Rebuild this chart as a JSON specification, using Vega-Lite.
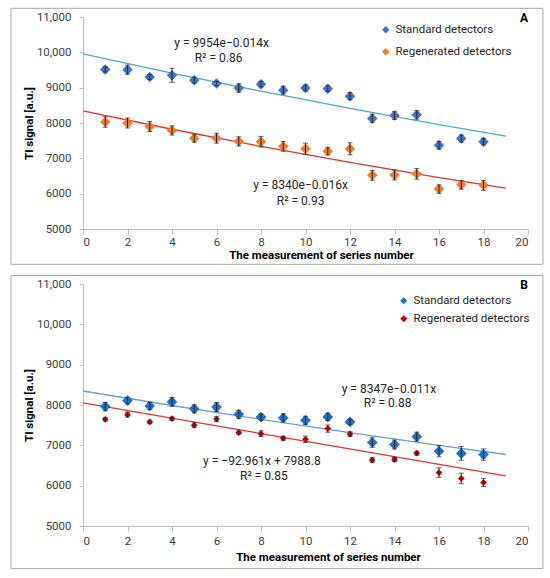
{
  "$schema": "https://vega.github.io/schema/vega-lite/v6.json",
  "background": "white",
  "padding": {"left": 10, "top": 7, "right": 5, "bottom": 5},
  "spacing": 10,
  "datasets": {
    "pts": [
      {"panel": "A", "series": "Standard detectors", "x": 1, "y": 9515, "err": 70},
      {"panel": "A", "series": "Standard detectors", "x": 2, "y": 9510, "err": 130},
      {"panel": "A", "series": "Standard detectors", "x": 3, "y": 9300, "err": 70},
      {"panel": "A", "series": "Standard detectors", "x": 4, "y": 9350, "err": 200},
      {"panel": "A", "series": "Standard detectors", "x": 5, "y": 9210, "err": 80},
      {"panel": "A", "series": "Standard detectors", "x": 6, "y": 9120, "err": 60},
      {"panel": "A", "series": "Standard detectors", "x": 7, "y": 8990, "err": 120},
      {"panel": "A", "series": "Standard detectors", "x": 8, "y": 9100, "err": 80},
      {"panel": "A", "series": "Standard detectors", "x": 9, "y": 8930, "err": 110},
      {"panel": "A", "series": "Standard detectors", "x": 10, "y": 8990, "err": 80},
      {"panel": "A", "series": "Standard detectors", "x": 11, "y": 8970, "err": 80},
      {"panel": "A", "series": "Standard detectors", "x": 12, "y": 8760, "err": 100},
      {"panel": "A", "series": "Standard detectors", "x": 13, "y": 8130, "err": 120},
      {"panel": "A", "series": "Standard detectors", "x": 14, "y": 8210, "err": 110},
      {"panel": "A", "series": "Standard detectors", "x": 15, "y": 8230, "err": 120},
      {"panel": "A", "series": "Standard detectors", "x": 16, "y": 7370, "err": 110},
      {"panel": "A", "series": "Standard detectors", "x": 17, "y": 7560, "err": 100},
      {"panel": "A", "series": "Standard detectors", "x": 18, "y": 7470, "err": 90},
      {"panel": "A", "series": "Regenerated detectors", "x": 1, "y": 8030, "err": 150},
      {"panel": "A", "series": "Regenerated detectors", "x": 2, "y": 8000, "err": 140},
      {"panel": "A", "series": "Regenerated detectors", "x": 3, "y": 7900, "err": 140},
      {"panel": "A", "series": "Regenerated detectors", "x": 4, "y": 7790, "err": 130},
      {"panel": "A", "series": "Regenerated detectors", "x": 5, "y": 7570, "err": 110},
      {"panel": "A", "series": "Regenerated detectors", "x": 6, "y": 7570, "err": 140},
      {"panel": "A", "series": "Regenerated detectors", "x": 7, "y": 7480, "err": 130},
      {"panel": "A", "series": "Regenerated detectors", "x": 8, "y": 7470, "err": 150},
      {"panel": "A", "series": "Regenerated detectors", "x": 9, "y": 7340, "err": 140},
      {"panel": "A", "series": "Regenerated detectors", "x": 10, "y": 7270, "err": 160},
      {"panel": "A", "series": "Regenerated detectors", "x": 11, "y": 7200, "err": 100},
      {"panel": "A", "series": "Regenerated detectors", "x": 12, "y": 7270, "err": 170},
      {"panel": "A", "series": "Regenerated detectors", "x": 13, "y": 6520, "err": 140},
      {"panel": "A", "series": "Regenerated detectors", "x": 14, "y": 6530, "err": 140},
      {"panel": "A", "series": "Regenerated detectors", "x": 15, "y": 6560, "err": 150},
      {"panel": "A", "series": "Regenerated detectors", "x": 16, "y": 6130, "err": 120},
      {"panel": "A", "series": "Regenerated detectors", "x": 17, "y": 6250, "err": 120},
      {"panel": "A", "series": "Regenerated detectors", "x": 18, "y": 6235, "err": 140},
      {"panel": "B", "series": "Standard detectors", "x": 1, "y": 7960, "err": 100},
      {"panel": "B", "series": "Standard detectors", "x": 2, "y": 8110, "err": 80},
      {"panel": "B", "series": "Standard detectors", "x": 3, "y": 7975, "err": 90},
      {"panel": "B", "series": "Standard detectors", "x": 4, "y": 8075, "err": 110},
      {"panel": "B", "series": "Standard detectors", "x": 5, "y": 7905, "err": 100},
      {"panel": "B", "series": "Standard detectors", "x": 6, "y": 7950, "err": 110},
      {"panel": "B", "series": "Standard detectors", "x": 7, "y": 7770, "err": 100},
      {"panel": "B", "series": "Standard detectors", "x": 8, "y": 7700, "err": 80},
      {"panel": "B", "series": "Standard detectors", "x": 9, "y": 7680, "err": 100},
      {"panel": "B", "series": "Standard detectors", "x": 10, "y": 7620, "err": 100},
      {"panel": "B", "series": "Standard detectors", "x": 11, "y": 7705, "err": 90},
      {"panel": "B", "series": "Standard detectors", "x": 12, "y": 7580, "err": 60},
      {"panel": "B", "series": "Standard detectors", "x": 13, "y": 7070, "err": 120},
      {"panel": "B", "series": "Standard detectors", "x": 14, "y": 7020, "err": 110},
      {"panel": "B", "series": "Standard detectors", "x": 15, "y": 7215, "err": 110},
      {"panel": "B", "series": "Standard detectors", "x": 16, "y": 6855, "err": 140},
      {"panel": "B", "series": "Standard detectors", "x": 17, "y": 6800, "err": 170},
      {"panel": "B", "series": "Standard detectors", "x": 18, "y": 6770, "err": 140},
      {"panel": "B", "series": "Regenerated detectors", "x": 1, "y": 7645, "err": 40},
      {"panel": "B", "series": "Regenerated detectors", "x": 2, "y": 7760, "err": 60},
      {"panel": "B", "series": "Regenerated detectors", "x": 3, "y": 7580, "err": 40},
      {"panel": "B", "series": "Regenerated detectors", "x": 4, "y": 7660, "err": 40},
      {"panel": "B", "series": "Regenerated detectors", "x": 5, "y": 7500, "err": 60},
      {"panel": "B", "series": "Regenerated detectors", "x": 6, "y": 7650, "err": 60},
      {"panel": "B", "series": "Regenerated detectors", "x": 7, "y": 7315, "err": 40},
      {"panel": "B", "series": "Regenerated detectors", "x": 8, "y": 7290, "err": 70},
      {"panel": "B", "series": "Regenerated detectors", "x": 9, "y": 7175, "err": 50},
      {"panel": "B", "series": "Regenerated detectors", "x": 10, "y": 7150, "err": 80},
      {"panel": "B", "series": "Regenerated detectors", "x": 11, "y": 7415, "err": 90},
      {"panel": "B", "series": "Regenerated detectors", "x": 12, "y": 7278, "err": 60},
      {"panel": "B", "series": "Regenerated detectors", "x": 13, "y": 6635, "err": 60},
      {"panel": "B", "series": "Regenerated detectors", "x": 14, "y": 6650, "err": 50},
      {"panel": "B", "series": "Regenerated detectors", "x": 15, "y": 6805, "err": 50},
      {"panel": "B", "series": "Regenerated detectors", "x": 16, "y": 6325, "err": 120},
      {"panel": "B", "series": "Regenerated detectors", "x": 17, "y": 6180, "err": 130},
      {"panel": "B", "series": "Regenerated detectors", "x": 18, "y": 6080, "err": 100}
    ],
    "fit": [
      {"panel": "A", "series": "Standard detectors", "x": 0, "y": 9954},
      {"panel": "A", "series": "Standard detectors", "x": 4, "y": 9411},
      {"panel": "A", "series": "Standard detectors", "x": 8, "y": 8899},
      {"panel": "A", "series": "Standard detectors", "x": 12, "y": 8414},
      {"panel": "A", "series": "Standard detectors", "x": 16, "y": 7956},
      {"panel": "A", "series": "Standard detectors", "x": 19, "y": 7629},
      {"panel": "A", "series": "Regenerated detectors", "x": 0, "y": 8340},
      {"panel": "A", "series": "Regenerated detectors", "x": 4, "y": 7823},
      {"panel": "A", "series": "Regenerated detectors", "x": 8, "y": 7338},
      {"panel": "A", "series": "Regenerated detectors", "x": 12, "y": 6883},
      {"panel": "A", "series": "Regenerated detectors", "x": 16, "y": 6456},
      {"panel": "A", "series": "Regenerated detectors", "x": 19, "y": 6154},
      {"panel": "B", "series": "Standard detectors", "x": 0, "y": 8347},
      {"panel": "B", "series": "Standard detectors", "x": 4, "y": 7988},
      {"panel": "B", "series": "Standard detectors", "x": 8, "y": 7644},
      {"panel": "B", "series": "Standard detectors", "x": 12, "y": 7315},
      {"panel": "B", "series": "Standard detectors", "x": 16, "y": 7000},
      {"panel": "B", "series": "Standard detectors", "x": 19, "y": 6773},
      {"panel": "B", "series": "Regenerated detectors", "x": 0, "y": 8055},
      {"panel": "B", "series": "Regenerated detectors", "x": 19, "y": 6245}
    ],
    "notes": [
      {"panel": "A", "label": "y = 9954e−0.014x", "x": 6.23, "y": 10256},
      {"panel": "A", "label": "R² = 0.86", "x": 6.09, "y": 9831},
      {"panel": "A", "label": "y = 8340e−0.016x", "x": 9.78, "y": 6237},
      {"panel": "A", "label": "R² = 0.93", "x": 9.78, "y": 5784},
      {"panel": "B", "label": "y = 8347e−0.011x", "x": 13.75, "y": 8391},
      {"panel": "B", "label": "R² = 0.88", "x": 13.69, "y": 8059},
      {"panel": "B", "label": "y = −92.961x + 7988.8", "x": 8.04, "y": 6609},
      {"panel": "B", "label": "R² = 0.85", "x": 8.13, "y": 6238}
    ]
  },
  "resolve": {
    "scale": {"x": "independent", "y": "independent", "color": "independent"},
    "legend": {"color": "independent"}
  },
  "vconcat": [
    {
      "width": 445,
      "height": 212,
      "title": {"text": "A", "anchor": "end", "frame": "group", "offset": -17, "fontSize": 12, "fontWeight": "bold", "color": "#000000"},
      "layer": [
        {
          "data": {"values": [{"frame": "A"}]},
          "mark": {"type": "rect", "fill": "transparent", "stroke": "#A6A6A6", "strokeWidth": 1},
          "encoding": {
            "x": {
              "datum": -3.236, "type": "quantitative", "title": "The measurement of series number",
              "scale": {"domain": [0, 20], "nice": false},
              "axis": {"values": [0, 2, 4, 6, 8, 10, 12, 14, 16, 18, 20], "tickCount": 11, "titleX": 238, "labelPadding": 2, "titlePadding": 2}
            },
            "x2": {"datum": 20.67},
            "y": {
              "datum": 11246, "type": "quantitative", "title": "TI signal [a.u.]",
              "scale": {"domain": [5000, 11000], "nice": false, "zero": false},
              "axis": {"values": [5000, 6000, 7000, 8000, 9000, 10000, 11000], "tickCount": 7, "labelOverlap": false, "tickSize": 4, "labelPadding": 8, "titlePadding": 2, "labelExpr": "datum.value >= 10000 ? format(datum.value, ',') : format(datum.value, 'd')"}
            },
            "y2": {"datum": 4000}
          }
        },
        {
          "data": {"name": "fit"},
          "transform": [{"filter": "datum.panel === 'A' && datum.series === 'Standard detectors'"}],
          "mark": {"type": "line", "strokeWidth": 1.3, "color": "#4BACC6"},
          "encoding": {
            "x": {"field": "x", "type": "quantitative", "title": "The measurement of series number"},
            "y": {"field": "y", "type": "quantitative", "title": "TI signal [a.u.]"}
          }
        },
        {
          "data": {"name": "fit"},
          "transform": [{"filter": "datum.panel === 'A' && datum.series === 'Regenerated detectors'"}],
          "mark": {"type": "line", "strokeWidth": 1.3, "color": "#E8312F"},
          "encoding": {
            "x": {"field": "x", "type": "quantitative", "title": "The measurement of series number"},
            "y": {"field": "y", "type": "quantitative", "title": "TI signal [a.u.]"}
          }
        },
        {
          "data": {"name": "pts"},
          "transform": [{"filter": "datum.panel === 'A'"}],
          "mark": {"type": "point", "shape": "diamond", "filled": true, "size": 110, "opacity": 1},
          "encoding": {
            "x": {"field": "x", "type": "quantitative", "title": "The measurement of series number"},
            "y": {"field": "y", "type": "quantitative", "title": "TI signal [a.u.]"},
            "color": {
              "field": "series", "type": "nominal",
              "scale": {"domain": ["Standard detectors", "Regenerated detectors"], "range": ["#4472C4", "#ED7D31"]},
              "legend": {"orient": "none", "legendX": 297, "legendY": 7, "title": null, "symbolType": "diamond", "symbolSize": 55, "rowPadding": 9}
            }
          }
        },
        {
          "data": {"name": "pts"},
          "transform": [{"filter": "datum.panel === 'A'"}],
          "mark": {"type": "errorbar", "ticks": true, "color": "#262626", "thickness": 1},
          "encoding": {
            "x": {"field": "x", "type": "quantitative", "title": "The measurement of series number"},
            "y": {"field": "y", "type": "quantitative", "title": "TI signal [a.u.]"},
            "yError": {"field": "err"}
          }
        },
        {
          "data": {"name": "notes"},
          "transform": [{"filter": "datum.panel === 'A'"}],
          "mark": {"type": "text", "align": "center", "baseline": "middle", "fontSize": 12, "color": "#262626"},
          "encoding": {
            "x": {"field": "x", "type": "quantitative", "title": "The measurement of series number"},
            "y": {"field": "y", "type": "quantitative", "title": "TI signal [a.u.]"},
            "text": {"field": "label", "type": "nominal"}
          }
        }
      ]
    },
    {
      "width": 445,
      "height": 242,
      "title": {"text": "B", "anchor": "end", "frame": "group", "offset": -17, "fontSize": 12, "fontWeight": "bold", "color": "#000000"},
      "layer": [
        {
          "data": {"values": [{"frame": "B"}]},
          "mark": {"type": "rect", "fill": "transparent", "stroke": "#A6A6A6", "strokeWidth": 1},
          "encoding": {
            "x": {
              "datum": -3.236, "type": "quantitative", "title": "The measurement of series number",
              "scale": {"domain": [0, 20], "nice": false},
              "axis": {"values": [0, 2, 4, 6, 8, 10, 12, 14, 16, 18, 20], "tickCount": 11, "titleX": 245, "labelPadding": 4, "titlePadding": 5}
            },
            "x2": {"datum": 20.67},
            "y": {
              "datum": 11210, "type": "quantitative", "title": "TI signal [a.u.]",
              "scale": {"domain": [5000, 11000], "nice": false, "zero": false},
              "axis": {"values": [5000, 6000, 7000, 8000, 9000, 10000, 11000], "tickCount": 7, "labelOverlap": false, "tickSize": 4, "labelPadding": 8, "titlePadding": 2, "labelExpr": "datum.value >= 10000 ? format(datum.value, ',') : format(datum.value, 'd')"}
            },
            "y2": {"datum": 3943}
          }
        },
        {
          "data": {"name": "fit"},
          "transform": [{"filter": "datum.panel === 'B' && datum.series === 'Standard detectors'"}],
          "mark": {"type": "line", "strokeWidth": 1.3, "color": "#6A9FD8"},
          "encoding": {
            "x": {"field": "x", "type": "quantitative", "title": "The measurement of series number"},
            "y": {"field": "y", "type": "quantitative", "title": "TI signal [a.u.]"}
          }
        },
        {
          "data": {"name": "fit"},
          "transform": [{"filter": "datum.panel === 'B' && datum.series === 'Regenerated detectors'"}],
          "mark": {"type": "line", "strokeWidth": 1.3, "color": "#E8312F"},
          "encoding": {
            "x": {"field": "x", "type": "quantitative", "title": "The measurement of series number"},
            "y": {"field": "y", "type": "quantitative", "title": "TI signal [a.u.]"}
          }
        },
        {
          "data": {"name": "pts"},
          "transform": [{"filter": "datum.panel === 'B' && datum.series === 'Standard detectors'"}],
          "mark": {"type": "point", "shape": "diamond", "filled": true, "size": 115, "opacity": 1},
          "encoding": {
            "x": {"field": "x", "type": "quantitative", "title": "The measurement of series number"},
            "y": {"field": "y", "type": "quantitative", "title": "TI signal [a.u.]"},
            "color": {
              "field": "series", "type": "nominal",
              "scale": {"domain": ["Standard detectors", "Regenerated detectors"], "range": ["#1E6FC6", "#C00000"]},
              "legend": {"orient": "none", "legendX": 315, "legendY": 11, "title": null, "symbolType": "diamond", "symbolSize": 50, "rowPadding": 5}
            }
          }
        },
        {
          "data": {"name": "pts"},
          "transform": [{"filter": "datum.panel === 'B' && datum.series === 'Regenerated detectors'"}],
          "mark": {"type": "point", "shape": "diamond", "filled": true, "size": 45, "opacity": 1},
          "encoding": {
            "x": {"field": "x", "type": "quantitative", "title": "The measurement of series number"},
            "y": {"field": "y", "type": "quantitative", "title": "TI signal [a.u.]"},
            "color": {"field": "series", "type": "nominal"}
          }
        },
        {
          "data": {"name": "pts"},
          "transform": [{"filter": "datum.panel === 'B'"}],
          "mark": {"type": "errorbar", "ticks": true, "color": "#262626", "thickness": 1},
          "encoding": {
            "x": {"field": "x", "type": "quantitative", "title": "The measurement of series number"},
            "y": {"field": "y", "type": "quantitative", "title": "TI signal [a.u.]"},
            "yError": {"field": "err"}
          }
        },
        {
          "data": {"name": "notes"},
          "transform": [{"filter": "datum.panel === 'B'"}],
          "mark": {"type": "text", "align": "center", "baseline": "middle", "fontSize": 12, "color": "#262626"},
          "encoding": {
            "x": {"field": "x", "type": "quantitative", "title": "The measurement of series number"},
            "y": {"field": "y", "type": "quantitative", "title": "TI signal [a.u.]"},
            "text": {"field": "label", "type": "nominal"}
          }
        }
      ]
    }
  ],
  "config": {
    "font": "Roboto",
    "view": {"stroke": null},
    "axis": {
      "grid": false,
      "labelOverlap": false,
      "domainColor": "#BFBFBF",
      "tickColor": "#BFBFBF",
      "tickSize": 5,
      "labelColor": "#404040",
      "labelFontSize": 11.5,
      "titleFontSize": 11.5,
      "titleFontWeight": "bold",
      "titleColor": "#000000"
    },
    "legend": {"labelFontSize": 11.5, "labelColor": "#262626", "labelOffset": 4, "padding": 0},
    "title": {"font": "Roboto"}
  }
}
